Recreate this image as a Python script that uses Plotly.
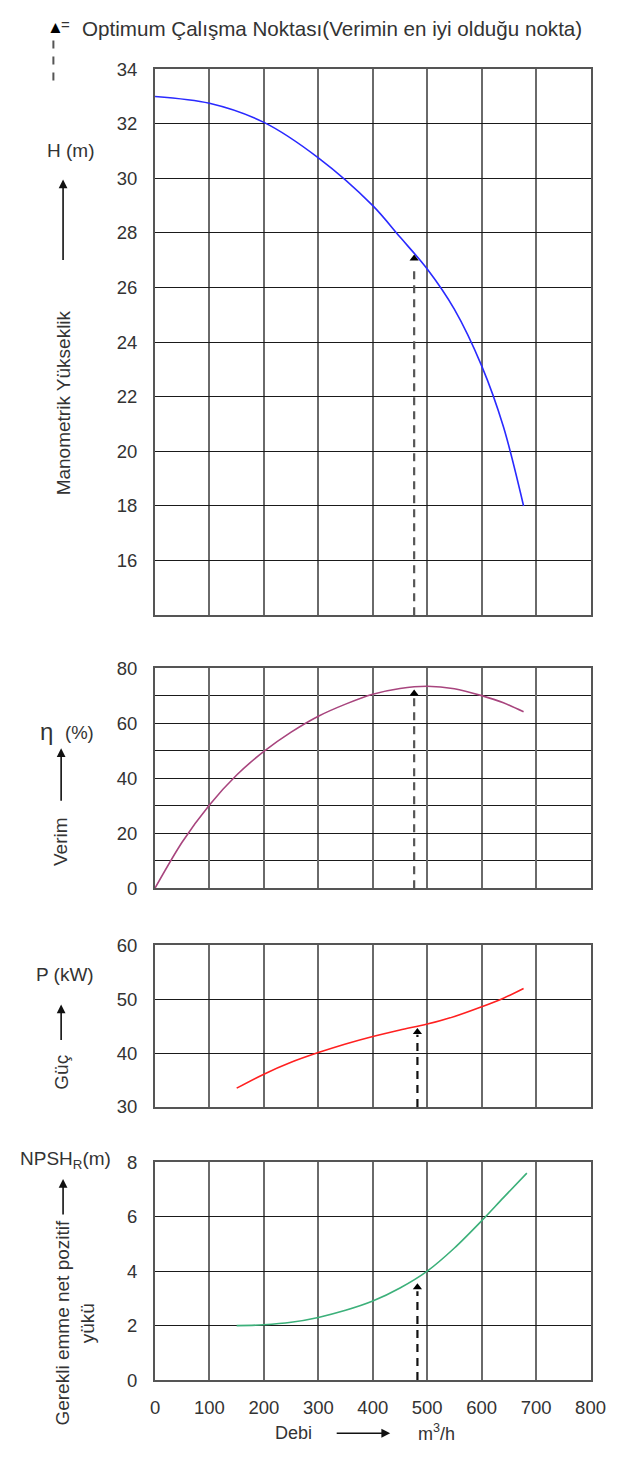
import plotly.graph_objects as go

# ---------------- data ----------------
q_head = [0, 100, 200, 300, 400, 450, 500, 550, 600, 640, 677]
head = [33.0, 32.75, 32.05, 30.75, 29.0, 27.85, 26.68, 25.2, 23.13, 20.9, 18.0]

q_eff = [0, 50, 100, 150, 200, 250, 300, 350, 400, 450, 500, 550, 600, 640, 677]
eff = [0, 16.8, 30.3, 41.2, 49.8, 56.8, 62.6, 67.0, 70.6, 72.7, 73.5, 72.6, 70.1, 67.5, 64.2]

q_pow = [150, 200, 250, 300, 350, 400, 450, 500, 550, 600, 640, 677]
power = [33.5, 36.1, 38.3, 40.1, 41.7, 43.1, 44.3, 45.4, 46.8, 48.6, 50.2, 52.0]

q_npsh = [150, 200, 250, 300, 350, 400, 450, 500, 550, 600, 640, 683]
npsh = [2.0, 2.03, 2.12, 2.3, 2.56, 2.9, 3.38, 4.0, 4.85, 5.85, 6.7, 7.6]

# optimum operating point markers (x, arrow tip) per panel
opt_q = [476, 476, 482, 482]
opt_val = [27.3, 71.8, 44.3, 3.5]

x_ticks = [0, 100, 200, 300, 400, 500, 600, 700, 800]
h_ticks = [16, 18, 20, 22, 24, 26, 28, 30, 32, 34]
eff_ticks = [0, 20, 40, 60, 80]
pow_ticks = [30, 40, 50, 60]
npsh_ticks = [0, 2, 4, 6, 8]

# ---------------- layout helpers ----------------
W, H = 622, 1461
def px(x):
    return x / W
def py(y):
    return 1 - y / H

FONT = "Liberation Sans, Arial, sans-serif"
TXT = "#333333"
FS = 18.5

panels = [
    dict(y0=59, y1=613, rng=[14, 34], ticks=h_ticks, minor=None),
    dict(y0=667, y1=890, rng=[0, 80], ticks=eff_ticks, minor=10),
    dict(y0=948, y1=1112, rng=[30, 60], ticks=pow_ticks, minor=None),
    dict(y0=1168, y1=1389, rng=[0, 8], ticks=npsh_ticks, minor=None),
]

fig = go.Figure()

series = [
    (q_head, head, "#2a2aff"),
    (q_eff, eff, "#a8457e"),
    (q_pow, power, "#ff2020"),
    (q_npsh, npsh, "#3cb07a"),
]

layout = {}
for i, p in enumerate(panels):
    n = "" if i == 0 else str(i + 1)
    xa = dict(
        domain=[px(155), px(605)], range=[0, 800], tickvals=x_ticks,
        showgrid=True, gridcolor="#6a6a6a", gridwidth=2.2,
        showline=True, linecolor="#555555", linewidth=2.2, mirror=True,
        zeroline=False, showticklabels=(i == 3), ticks="",
        tickfont=dict(family=FONT, size=FS, color=TXT),
        ticklabelstandoff=10, anchor="y" + n, fixedrange=True,
    )
    ya = dict(
        domain=[py(p["y1"]), py(p["y0"])], range=p["rng"], tickvals=p["ticks"],
        showgrid=True, gridcolor="#1a1a1a", gridwidth=1.4,
        showline=True, linecolor="#555555", linewidth=2.2, mirror=True,
        zeroline=False, ticks="", anchor="x" + n,
        tickfont=dict(family=FONT, size=FS, color=TXT),
        ticklabelstandoff=12, fixedrange=True,
    )
    if p["minor"]:
        ya["minor"] = dict(dtick=p["minor"], showgrid=True, gridcolor="#1a1a1a", gridwidth=1.4)
    layout["xaxis" + n] = xa
    layout["yaxis" + n] = ya

    qx, vy, col = series[i]
    fig.add_trace(go.Scatter(x=qx, y=vy, mode="lines", line=dict(color=col, width=1.6, shape="spline", smoothing=0.9),
                             xaxis="x" + n, yaxis="y" + n, showlegend=False, hoverinfo="skip"))
    # dashed optimum arrow
    span = p["rng"][1] - p["rng"][0]
    dash_col = "#555555" if i < 2 else "#111111"
    fig.add_trace(go.Scatter(x=[opt_q[i], opt_q[i]], y=[p["rng"][0], opt_val[i] - span * 0.03],
                             mode="lines", line=dict(color=dash_col, width=2.2, dash="8px,6px"),
                             xaxis="x" + n, yaxis="y" + n, showlegend=False, hoverinfo="skip"))
    fig.add_trace(go.Scatter(x=[opt_q[i]], y=[opt_val[i] - span * 0.012], mode="markers",
                             marker=dict(symbol="triangle-up", size=8, color="#000000"),
                             xaxis="x" + n, yaxis="y" + n, showlegend=False, hoverinfo="skip"))

annotations = []
def text(x, y, s, size=FS, angle=0, xanchor="center", yanchor="middle", color=TXT):
    annotations.append(dict(x=px(x), y=py(y), xref="paper", yref="paper", text=s, showarrow=False,
                            textangle=angle, xanchor=xanchor, yanchor=yanchor,
                            font=dict(family=FONT, size=size, color=color)))

def arrow(x0, y0, x1, y1):
    annotations.append(dict(x=px(x1), y=py(y1), ax=x0 - x1, ay=y0 - y1, xref="paper", yref="paper",
                            axref="pixel", ayref="pixel", text="", showarrow=True,
                            arrowhead=2, arrowsize=1.1, arrowwidth=1.6, arrowcolor="#111111"))

# top legend
text(41, 17, "▲", size=17, xanchor="left", color="#000000")
text(56, 14, "=", size=15, xanchor="left")
text(77, 18, "Optimum Çalışma Noktası(Verimin en iyi olduğu nokta)", size=20.6, xanchor="left")

# panel 1 labels
text(68, 142, "H (m)", size=19)
arrow(60, 253, 60, 171)
text(60, 398, "Manometrik Yükseklik", size=19, angle=-90)

# panel 2 labels
text(43, 731, "η", size=24)
text(77, 732, "(%)", size=18.5)
arrow(58, 802, 58, 748)
text(58, 843, "Verim", size=19, angle=-90)

# panel 3 labels
text(62, 978, "P (kW)", size=19)
arrow(58, 1045, 58, 1008)
text(58, 1077, "Güç", size=19, angle=-90)

# panel 4 labels
text(62, 1166, "NPSH<sub>R</sub>(m)", size=19)
arrow(60, 1222, 60, 1185)
text(72, 1331, "Gerekli emme net pozitif<br>yükü", size=19, angle=-90)

# bottom axis title
text(298, 1443, "Debi", size=18)
arrow(343, 1443, 398, 1443)
text(446, 1442, "m<sup>3</sup>/h", size=18)

shapes = [dict(type="line", xref="paper", yref="paper", x0=px(50), x1=px(50), y0=py(30), y1=py(72),
               line=dict(color="#555555", width=2, dash="8px,8px"))]

fig.update_layout(
    width=W, height=H, autosize=False,
    margin=dict(l=0, r=0, t=0, b=0),
    paper_bgcolor="white", plot_bgcolor="white",
    annotations=annotations, shapes=shapes,
    font=dict(family=FONT, size=FS, color=TXT),
    showlegend=False,
    **layout,
)

fig.write_html("out.html", config={"displayModeBar": False},
               post_script="document.body.style.margin='0';")
